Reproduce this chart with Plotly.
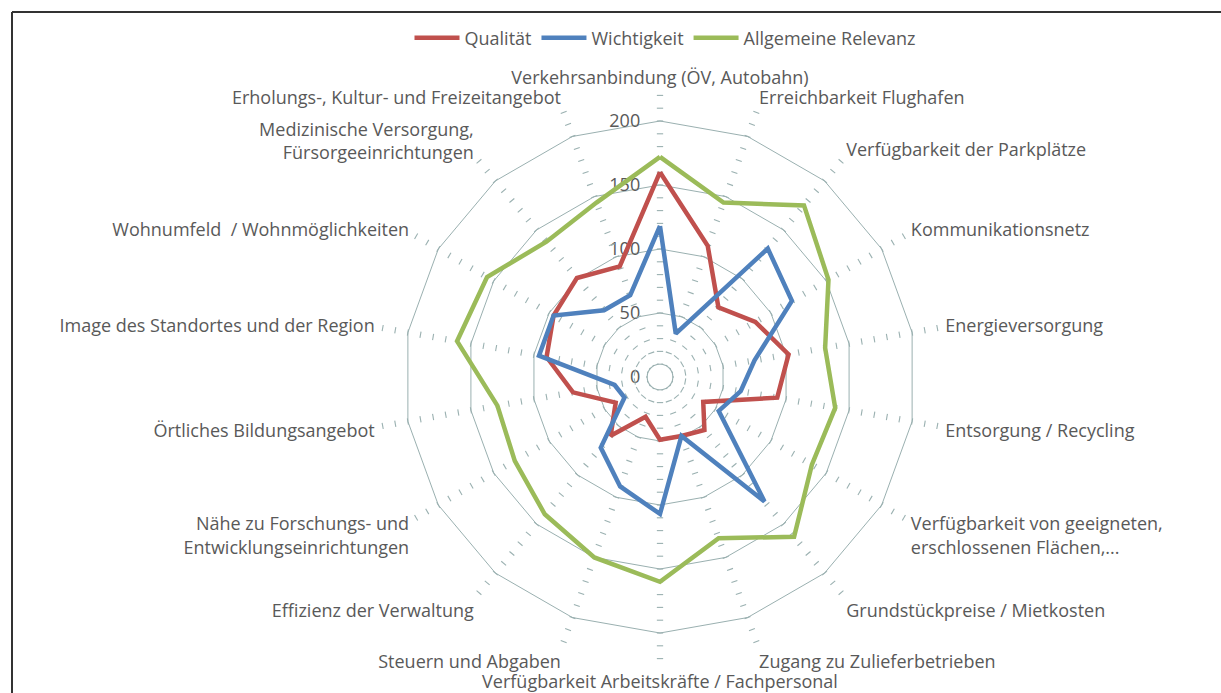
import plotly.graph_objects as go

# ---------------- data ----------------
categories = [
    "Verkehrsanbindung (ÖV, Autobahn)",
    "Erreichbarkeit Flughafen",
    "Verfügbarkeit der Parkplätze",
    "Kommunikationsnetz",
    "Energieversorgung",
    "Entsorgung / Recycling",
    "Verfügbarkeit von geeigneten,<br>erschlossenen Flächen,...",
    "Grundstückpreise / Mietkosten",
    "Zugang zu Zulieferbetrieben",
    "Verfügbarkeit Arbeitskräfte / Fachpersonal",
    "Steuern und Abgaben",
    "Effizienz der Verwaltung",
    "Nähe zu Forschungs- und<br>Entwicklungseinrichtungen",
    "Örtliches Bildungsangebot",
    "Image des Standortes und der Region",
    "Wohnumfeld  / Wohnmöglichkeiten",
    "Medizinische Versorgung,<br>Fürsorgeeinrichtungen",
    "Erholungs-, Kultur- und Freizeitangebot",
]

qualitaet = [160, 109, 71, 86, 102, 93, 39, 54, 49, 49, 33, 60, 40, 69, 90, 96, 101, 92]
wichtigkeit = [118, 36, 131, 119, 75, 64, 53, 127, 49, 107, 91, 72, 32, 36, 96, 96, 68, 68]
relevanz = [172, 145, 175, 152, 131, 139, 137, 163, 134, 160, 150, 140, 131, 129, 161, 156, 138, 145]

series_names = ["Qualität", "Wichtigkeit", "Allgemeine Relevanz"]
series_values = [qualitaet, wichtigkeit, relevanz]
series_colors = ["#C0504D", "#4F81BD", "#9BBB59"]

radial_ticks = [0, 50, 100, 150, 200]
minor_step = 10
axis_max = 220

# ---------------- styling ----------------
W, H = 1221, 693
CX, CY = 660, 377          # centre of the radar in px (from top-left)
PX_PER_UNIT = 1.28
R = axis_max * PX_PER_UNIT
GRID = "#9AB0B0"
TEXT = "#595959"
FONT = "Open Sans"
FS = 18
BOTTOM = len(categories) // 2   # category sitting at the bottom spoke

fig = go.Figure()

# minor tick marks on every spoke (Excel style) - lower polar layer
tick_r, tick_theta, tick_angle = [], [], []
n = len(categories)
for i, c in enumerate(categories):
    for v in range(minor_step, axis_max + 1, minor_step):
        tick_r.append(v)
        tick_theta.append(c)
        tick_angle.append(i * 360.0 / n)

fig.add_trace(go.Scatterpolar(
    r=tick_r, theta=tick_theta, mode="markers", subplot="polar",
    marker=dict(symbol="line-ew", size=4.5, angle=tick_angle,
                line=dict(color=GRID, width=1.1), color=GRID),
    hoverinfo="skip", showlegend=False, cliponaxis=False,
))

# data series - upper polar layer
for name, vals, col in zip(series_names, series_values, series_colors):
    fig.add_trace(go.Scatterpolar(
        r=vals + vals[:1], theta=categories + categories[:1],
        mode="lines", name=name, subplot="polar2", cliponaxis=False,
        line=dict(color=col, width=4.5),
    ))

domain = dict(x=[(CX - R) / W, (CX + R) / W],
              y=[(H - CY - R) / H, (H - CY + R) / H])
tickfont = dict(family=FONT, size=FS, color=TEXT)

labels_main = [("" if i == BOTTOM else c) for i, c in enumerate(categories)]

fig.update_layout(
    width=W, height=H,
    margin=dict(l=0, r=0, t=0, b=0),
    paper_bgcolor="white",
    font=dict(family=FONT, color=TEXT, size=FS),
    showlegend=True,
    legend=dict(orientation="h", x=665 / W, xanchor="center",
                y=1 - 38 / H, yanchor="middle",
                font=dict(family=FONT, size=FS, color=TEXT),
                itemwidth=45, bgcolor="rgba(0,0,0,0)"),
    polar=dict(
        domain=domain,
        gridshape="linear",
        bgcolor="rgba(0,0,0,0)",
        radialaxis=dict(range=[0, axis_max], tickvals=radial_ticks,
                        showline=False, showgrid=True, gridcolor=GRID, gridwidth=1,
                        angle=90, tickangle=90, side="counterclockwise",
                        ticks="outside", ticklen=13, tickcolor="rgba(0,0,0,0)",
                        tickfont=tickfont, layer="below traces"),
        angularaxis=dict(rotation=90, direction="clockwise", type="category",
                         categoryorder="array", categoryarray=categories,
                         tickmode="array", tickvals=categories, ticktext=labels_main,
                         showgrid=False, showline=False,
                         ticks="outside", ticklen=4, tickcolor="rgba(0,0,0,0)",
                         tickfont=tickfont, layer="below traces"),
    ),
    polar2=dict(
        domain=domain,
        gridshape="circular",
        bgcolor="rgba(0,0,0,0)",
        radialaxis=dict(range=[0, axis_max], visible=False),
        angularaxis=dict(rotation=90, direction="clockwise", type="category",
                         categoryorder="array", categoryarray=categories,
                         tickmode="array", tickvals=[categories[BOTTOM]],
                         ticktext=[categories[BOTTOM]],
                         showgrid=False, showline=False,
                         ticks="outside", ticklen=7, tickcolor="rgba(0,0,0,0)",
                         tickfont=tickfont),
    ),
    shapes=[
        dict(type="line", xref="paper", yref="paper",
             x0=12 / W, x1=1.01, y0=1 - 12 / H, y1=1 - 12 / H,
             line=dict(color="#333333", width=2)),
        dict(type="line", xref="paper", yref="paper",
             x0=12 / W, x1=12 / W, y0=1 - 12 / H, y1=-0.01,
             line=dict(color="#333333", width=2)),
    ],
)

fig.write_html("out.html", config={"displayModeBar": False},
               post_script="document.body.style.margin='0';document.body.style.overflow='hidden';")
